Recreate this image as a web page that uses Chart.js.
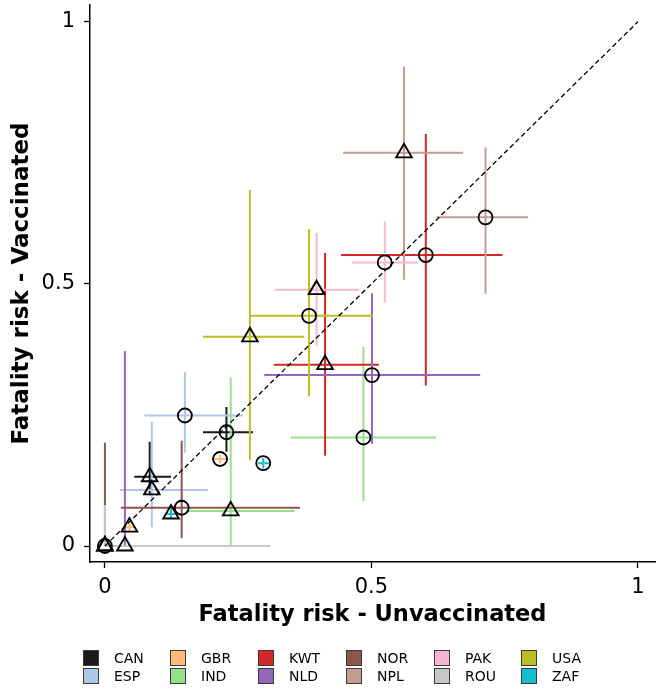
<!DOCTYPE html>
<html>
<head>
<meta charset="utf-8">
<script src="https://cdn.jsdelivr.net/npm/chart.js@4/dist/chart.umd.min.js"></script>
<style>
  html, body { margin: 0; padding: 0; background: #fff; }
  #wrap { position: relative; width: 663px; height: 690px; }
  #riskChart { position: absolute; left: 0; top: 0; }
  #legend { position: absolute; left: 0; top: 0; width: 663px; height: 690px; pointer-events: none;
            font-family: "DejaVu Sans", sans-serif; font-size: 14px; color: #000; }
  .box { position: absolute; width: 16px; height: 16px; border: 1px solid #3a3a3a; box-sizing: border-box; }
  .lbl { position: absolute; line-height: 16px; }
</style>
</head>
<body>
<div id="wrap">
  <canvas id="riskChart" width="663" height="690"></canvas>
  <div id="legend"></div>
</div>
<script>
// countries and their colours
const countries = ["CAN", "ESP", "GBR", "IND", "KWT", "NLD", "NOR", "NPL", "PAK", "ROU", "USA", "ZAF"];
const colors = ["#1a1a1a", "#aec7e8", "#ffbb78", "#98df8a", "#d62728", "#9467bd",
                "#8c564b", "#c49c94", "#f7b6d2", "#c7c7c7", "#bcbd22", "#17becf"];

// circle markers: estimate and interval, unvaccinated (x) / vaccinated (y)
const circX   = [0.228, 0.150, 0.216, 0.485, 0.602, 0.501, 0.144, 0.714, 0.525, 0.000, 0.383, 0.297];
const circXlo = [0.184, 0.074, 0.200, 0.349, 0.443, 0.299, 0.030, 0.622, 0.463, 0.000, 0.272, 0.287];
const circXhi = [0.278, 0.259, 0.231, 0.621, 0.746, 0.704, 0.366, 0.794, 0.588, 0.310, 0.503, 0.308];
const circY   = [0.217, 0.249, 0.166, 0.207, 0.555, 0.326, 0.073, 0.627, 0.541, 0.000, 0.439, 0.158];
const circYlo = [0.180, 0.178, 0.158, 0.086, 0.306, 0.195, 0.015, 0.481, 0.464, 0.000, 0.285, 0.148];
const circYhi = [0.265, 0.332, 0.174, 0.380, 0.786, 0.482, 0.201, 0.760, 0.619, 0.078, 0.604, 0.168];

// triangle markers
const triX   = [0.084, 0.088, 0.046, 0.236, 0.413, 0.0375, 0.000, 0.561, 0.397, 0.000, 0.272, 0.124];
const triXlo = [0.055, 0.028, 0.037, 0.153, 0.317, 0.0375, 0.000, 0.447, 0.319, 0.000, 0.184, 0.114];
const triXhi = [0.124, 0.193, 0.055, 0.356, 0.514, 0.0375, 0.000, 0.672, 0.477, 0.000, 0.374, 0.134];
const triY   = [0.132, 0.107, 0.036, 0.067, 0.346, 0.000, 0.000, 0.750, 0.489, 0.000, 0.399, 0.061];
const triYlo = [0.097, 0.036, 0.027, 0.000, 0.172, 0.000, 0.000, 0.508, 0.382, 0.000, 0.164, 0.052];
const triYhi = [0.199, 0.237, 0.045, 0.321, 0.559, 0.372, 0.197, 0.914, 0.597, 0.000, 0.679, 0.071];

// identity line and ticks
const diagX = [0, 1];
const diagY = [0, 1];
const tickValues = [0, 0.5, 1];
const tickLabels = ["0", "0.5", "1"];

const FONT = "'DejaVu Sans', sans-serif";

function crossData(x, xlo, xhi, y, ylo, yhi) {
    return [
        { x: xlo, y: y }, { x: xhi, y: y }, { x: x, y: null },
        { x: x, y: ylo }, { x: x, y: yhi }, { x: x, y: null },
    ];
}

const datasets = [];
datasets.push({
    label: "circles",
    data: countries.map((c, i) => ({ x: circX[i], y: circY[i] })),
    pointStyle: "circle",
    pointRadius: 7,
    pointBorderWidth: 1.8,
    pointBorderColor: "#000",
    pointBackgroundColor: "rgba(0,0,0,0)",
    order: 0,
});
datasets.push({
    label: "triangles",
    data: countries.map((c, i) => ({ x: triX[i], y: triY[i] })),
    pointStyle: "triangle",
    pointRadius: 9,
    pointBorderWidth: 1.9,
    pointBorderColor: "#000",
    pointBackgroundColor: "rgba(0,0,0,0)",
    order: 0,
});
datasets.push({
    label: "identity",
    data: diagX.map((x, i) => ({ x: x, y: diagY[i] })),
    showLine: true,
    borderColor: "#000",
    borderWidth: 1.3,
    borderDash: [5, 3],
    pointRadius: 0,
    order: 1,
});
countries.forEach((c, i) => {
    datasets.push({
        label: c,
        data: crossData(circX[i], circXlo[i], circXhi[i], circY[i], circYlo[i], circYhi[i])
            .concat(crossData(triX[i], triXlo[i], triXhi[i], triY[i], triYlo[i], triYhi[i])),
        showLine: true,
        spanGaps: false,
        borderColor: colors[i],
        borderWidth: 2,
        pointRadius: 0,
        order: 2 + (countries.length - i),
    });
});

function setTicks(axis) {
    axis.ticks = tickValues.map(v => ({ value: v }));
}
function tickText(v) {
    const k = tickValues.indexOf(v);
    return k >= 0 ? tickLabels[k] : "";
}
function noPad(s) {
    s.paddingTop = 0; s.paddingBottom = 0; s.paddingLeft = 0; s.paddingRight = 0;
}

new Chart(document.getElementById("riskChart"), {
    type: "scatter",
    data: { datasets: datasets },
    options: {
        responsive: false,
        animation: false,
        events: [],
        layout: { autoPadding: false, padding: { top: 5, right: 8, left: 0, bottom: 60 } },
        plugins: { legend: { display: false }, tooltip: { enabled: false } },
        scales: {
            x: {
                type: "linear",
                min: -0.028,
                max: 1.032,
                afterBuildTicks: setTicks,
                afterFit: s => { s.height = 68; noPad(s); },
                ticks: { callback: tickText, color: "#000", padding: 7, maxRotation: 0,
                         font: { family: FONT, size: 21 } },
                grid: { drawOnChartArea: false, drawTicks: true, tickLength: 6, tickWidth: 1.3, tickColor: "#000" },
                border: { display: true, color: "#000", width: 1.5 },
                title: { display: true, text: "Fatality risk - Unvaccinated", color: "#000",
                         font: { family: FONT, size: 22.5, weight: "bold" }, padding: { top: 0, bottom: 1 } },
            },
            y: {
                type: "linear",
                min: -0.0305,
                max: 1.032,
                afterBuildTicks: setTicks,
                afterFit: s => { s.width = 90; noPad(s); },
                ticks: { callback: tickText, color: "#000", padding: 9,
                         font: { family: FONT, size: 21 } },
                grid: { drawOnChartArea: false, drawTicks: true, tickLength: 6, tickWidth: 1.3, tickColor: "#000" },
                border: { display: true, color: "#000", width: 1.5 },
                title: { display: true, text: "Fatality risk - Vaccinated", color: "#000",
                         font: { family: FONT, size: 23, weight: "bold" }, padding: { top: 8, bottom: 0 } },
            },
        },
    },
});

// legend, laid out in columns like the original (two rows of six)
const legend = document.getElementById("legend");
const colLeft = [83, 170, 258, 346, 434, 521];
const rowTop = [650, 668];
countries.forEach((c, i) => {
    const col = Math.floor(i / 2), row = i % 2;
    const box = document.createElement("div");
    box.className = "box";
    box.style.left = colLeft[col] + "px";
    box.style.top = rowTop[row] + "px";
    box.style.background = colors[i];
    legend.appendChild(box);
    const lbl = document.createElement("div");
    lbl.className = "lbl";
    lbl.style.left = (colLeft[col] + 31) + "px";
    lbl.style.top = rowTop[row] + "px";
    lbl.textContent = c;
    legend.appendChild(lbl);
});
</script>
</body>
</html>
